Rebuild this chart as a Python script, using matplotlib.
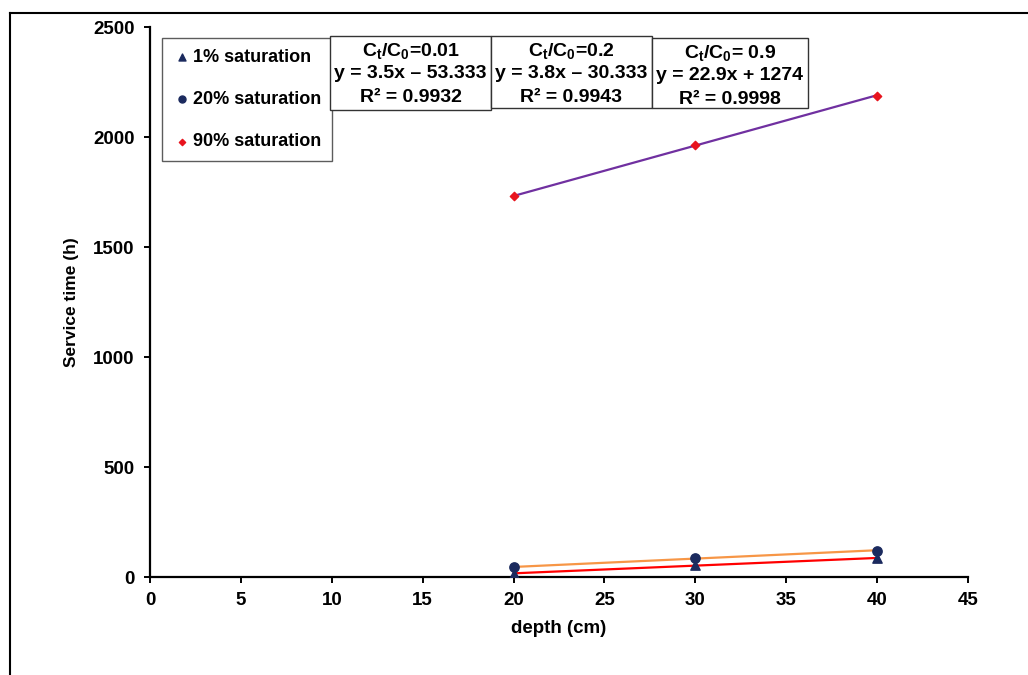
import matplotlib
matplotlib.use('Agg')
import matplotlib.pyplot as plt
from matplotlib.patches import Rectangle
from matplotlib.lines import Line2D
import numpy as np

plt.rcParams['font.family'] = ['Liberation Sans', 'DejaVu Sans']
plt.rcParams['font.weight'] = 'bold'
plt.rcParams['mathtext.fontset'] = 'custom'
plt.rcParams['mathtext.rm'] = 'Liberation Sans:bold'
plt.rcParams['mathtext.it'] = 'Liberation Sans:bold'
plt.rcParams['mathtext.bf'] = 'Liberation Sans:bold'

depth = [20, 30, 40]
sat_1 = [15, 55, 85]
sat_20 = [44, 87, 120]
sat_90 = [1730, 1965, 2188]

series_labels = ['1% saturation', '20% saturation', '90% saturation']
ratio_labels = ['0.01', '0.2', ' 0.9']
slopes = [3.5, 3.8, 22.9]
intercepts = [-53.333, -30.333, 1274]
r2_values = [0.9932, 0.9943, 0.9998]


def fit_text(slope, intercept):
    if intercept < 0:
        return f'y = {slope}x \u2013 {abs(intercept):g}'
    return f'y = {slope}x + {intercept:g}'


fig = plt.figure(figsize=(10.28, 6.75), dpi=100)
ax = fig.add_axes([150 / 1028, 98 / 675, 818 / 1028, 550 / 675])

# trend lines
xs = np.array(depth, dtype=float)
line_colors = ['#ff0000', '#f79646', '#7030a0']
for slope, intercept, col in zip(slopes, intercepts, line_colors):
    ax.plot(xs, slope * xs + intercept, color=col, lw=1.6, zorder=2)

ax.scatter(depth, sat_1, marker='^', s=45, color='#1b2a5e', zorder=3,
           label=series_labels[0])
ax.scatter(depth, sat_20, marker='o', s=45, color='#1b2a5e', zorder=3,
           label=series_labels[1])
ax.scatter(depth, sat_90, marker='D', s=18, color='#e8141e', zorder=3,
           label=series_labels[2])

ax.set_xlim(0, 45)
ax.set_ylim(0, 2500)
ax.set_xticks(range(0, 46, 5))
ax.set_yticks(range(0, 2501, 500))
for side in ['top', 'right']:
    ax.spines[side].set_visible(False)
for side in ['left', 'bottom']:
    ax.spines[side].set_linewidth(1.6)
ax.tick_params(direction='out', length=4, width=1.4, labelsize=13.5, pad=7)
for lbl in ax.get_xticklabels() + ax.get_yticklabels():
    lbl.set_fontweight('bold')
ax.set_xlabel('depth (cm)', fontsize=13.5, fontweight='bold', labelpad=8)
ax.set_ylabel('Service time (h)', fontsize=12.5, fontweight='bold', labelpad=10)

leg = ax.legend(loc='upper left', bbox_to_anchor=(12 / 818, 1 - 11 / 550),
                frameon=True, fancybox=False, fontsize=13, handletextpad=0.1,
                labelspacing=1.4, borderpad=0.6, handlelength=1.0,
                borderaxespad=0, markerscale=0.75)
leg.get_frame().set_edgecolor('#333333')
leg.get_frame().set_linewidth(1.0)
for t in leg.get_texts():
    t.set_fontweight('bold')

# equation boxes
box_x = [330, 491, 652]
box_w = [161, 161, 156]
box_top = [36, 36, 38]
box_h = [74, 72, 70]
for i in range(3):
    x0 = box_x[i] / 1028
    y0 = 1 - (box_top[i] + box_h[i]) / 675
    fig.add_artist(Rectangle((x0, y0), box_w[i] / 1028, box_h[i] / 675,
                             transform=fig.transFigure, fill=True,
                             facecolor='white', edgecolor='#333333', lw=1.0,
                             zorder=5))
    cx = (box_x[i] + box_w[i] / 2) / 1028
    lines = [r'C$_\mathrm{t}$/C$_\mathrm{0}$=' + ratio_labels[i],
             fit_text(slopes[i], intercepts[i]),
             f'R\u00b2 = {r2_values[i]}']
    for j, txt in enumerate(lines):
        fig.text(cx, 1 - (box_top[i] + 15 + j * 23) / 675, txt, ha='center',
                 va='center', fontsize=14, fontweight='bold', zorder=6)

# outer frame (left and top edges)
fig.add_artist(Line2D([10 / 1028, 10 / 1028], [0, 1 - 13 / 675],
                      transform=fig.transFigure, color='black', lw=1.5))
fig.add_artist(Line2D([10 / 1028, 1], [1 - 13 / 675, 1 - 13 / 675],
                      transform=fig.transFigure, color='black', lw=1.5))

fig.savefig('out.png', dpi=100)
